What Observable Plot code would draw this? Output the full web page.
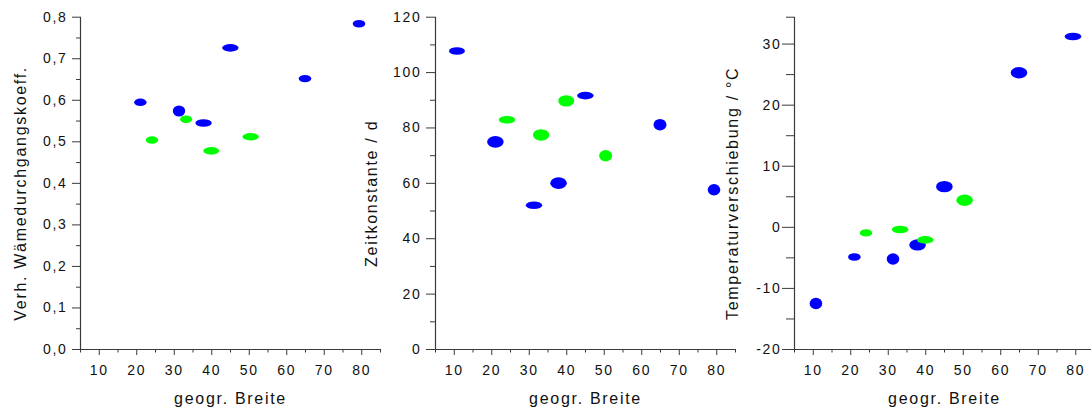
<!DOCTYPE html>
<html>
<head>
<meta charset="utf-8">
<script src="https://cdn.jsdelivr.net/npm/d3@7"></script>
<script src="https://cdn.jsdelivr.net/npm/@observablehq/plot@0.6"></script>
<style>
  html, body { margin: 0; padding: 0; background: #fff; }
  #chart { position: relative; width: 1091px; height: 409px; overflow: hidden; background: #fff; }
  #chart svg { position: absolute; top: 0; }
  #chart svg text { letter-spacing: 1.7px; }
</style>
</head>
<body>
<div id="chart"></div>
<script>
// ---- data ----
const latBlue  = [10.85, 21.1, 31.4, 37.95, 45.1, 65.0, 79.4];
const latGreen = [24.2, 33.3, 40.0, 50.5];

// Panel 1: Verh. Wärmedurchgangskoeff.
const coefBlue  = [null, 0.594, 0.573, 0.544, 0.725, 0.651, 0.783];
const coefGreen = [0.503, 0.553, 0.477, 0.511];

// Panel 2: Zeitkonstante / d
const tauBlue  = [107.6, 74.8, 51.9, 59.9, 91.5, 81.0, 57.5];
const tauGreen = [82.8, 77.3, 89.6, 69.8];

// Panel 3: Temperaturverschiebung / °C
const shiftBlue  = [-12.55, -4.93, -5.26, -2.96, 6.58, 25.23, 31.15];
const shiftGreen = [-0.99, -0.43, -2.14, 4.34];

// tick values
const xMajor = [10, 20, 30, 40, 50, 60, 70, 80];
const xMinor = [5, 15, 25, 35, 45, 55, 65, 75, 85];
const coefMajor = [0, 0.1, 0.2, 0.3, 0.4, 0.5, 0.6, 0.7, 0.8];
const coefMinor = [0.05, 0.15, 0.25, 0.35, 0.45, 0.55, 0.65, 0.75];
const tauMajor = [0, 20, 40, 60, 80, 100, 120];
const tauMinor = [10, 30, 50, 70, 90, 110];
const shiftMajor = [-20, -10, 0, 10, 20, 30];
const shiftMinor = [-15, -5, 5, 15, 25, 34.4];

// marker shapes (half-width / half-height of each ellipse, px)
const shape1Blue  = {rx: [0, 6.2, 6.2, 8.2, 8.2, 6.3, 6.3], ry: [0, 3.7, 5.5, 3.8, 3.8, 3.7, 3.8]};
const shape1Green = {rx: [6.2, 6.0, 8.0, 8.2], ry: [3.7, 3.8, 3.8, 3.7]};
const shape2Blue  = {rx: [8.0, 8.3, 8.2, 8.3, 8.3, 6.5, 6.3], ry: [3.8, 5.8, 3.8, 5.8, 3.8, 5.8, 5.8]};
const shape2Green = {rx: [8.2, 8.2, 8.0, 6.5], ry: [3.8, 5.8, 5.7, 5.7]};
const shape3Blue  = {rx: [6.3, 6.3, 6.3, 8.3, 8.3, 8.3, 8.3], ry: [5.7, 3.8, 5.7, 5.7, 5.7, 5.7, 3.8]};
const shape3Green = {rx: [6.2, 8.3, 8.3, 8.3], ry: [3.7, 3.8, 3.8, 5.7]};

const BLUE = "#0000ff", GREEN = "#00ff00", INK = "#111111", AXIS = "#3a3a3a";
const FONT = "'Liberation Sans', Arial, sans-serif";

function ellipses(lat, val, shape, color) {
  const idx = d3.range(lat.length).filter(i => val[i] != null);
  return Plot.dot(idx, {
    x: i => lat[i], y: i => val[i], fill: color, stroke: null, r: 5,
    render(index, scales, values) {
      const g = d3.create("svg:g");
      g.selectAll("ellipse").data(index).join("ellipse")
        .attr("cx", i => values.x[i])
        .attr("cy", i => values.y[i])
        .attr("rx", i => shape.rx[idx[i]])
        .attr("ry", i => shape.ry[idx[i]])
        .attr("fill", color);
      return g.node();
    }
  });
}

function panel(o) {
  return Plot.plot({
    width: 380, height: 409,
    marginLeft: 80, marginRight: 0, marginTop: 16.7, marginBottom: 60,
    style: {background: "transparent", overflow: "visible", fontFamily: FONT, color: INK},
    x: {domain: [5, 85]},
    y: {domain: o.yDomain},
    marks: [
      Plot.ruleX([5], {stroke: AXIS, strokeWidth: 1.2}),
      Plot.ruleY([o.yDomain[0]], {stroke: AXIS, strokeWidth: 1.2}),
      Plot.axisX(xMajor, {tickSize: 6, tickPadding: 10, fontSize: 14, label: null, stroke: AXIS}),
      Plot.axisX(xMinor, {tickSize: 3.5, tickFormat: () => "", label: null, stroke: AXIS}),
      Plot.axisY(o.yMajor, {tickSize: o.tick, tickPadding: o.pad, fontSize: 14, label: null,
        tickFormat: o.fmt, stroke: AXIS}),
      Plot.axisY(o.yMinor, {tickSize: o.minor, tickFormat: () => "", label: null, stroke: AXIS}),
      ellipses(latBlue, o.blue, o.shapeBlue, BLUE),
      ellipses(latGreen, o.green, o.shapeGreen, GREEN),
      Plot.text(["geogr. Breite"], {text: d => d, frameAnchor: "bottom", dy: 54,
        textAnchor: "middle", fontSize: 16, fill: INK}),
      Plot.text([o.yLabel], {text: d => d, frameAnchor: "left", rotate: -90, dx: o.ldx, dy: 10,
        textAnchor: "middle", fontSize: 16, fill: INK})
    ]
  });
}

const chart = document.getElementById("chart");
const panels = [
  {left: 0, yDomain: [0, 0.8], yMajor: coefMajor, yMinor: coefMinor, tick: 8, minor: 4, pad: 5,
   fmt: d => d.toFixed(1).replace(".", ","), yLabel: "Verh. Wämedurchgangskoeff.", ldx: -60,
   blue: coefBlue, green: coefGreen, shapeBlue: shape1Blue, shapeGreen: shape1Green},
  {left: 355, yDomain: [0, 120], yMajor: tauMajor, yMinor: tauMinor, tick: 9, minor: 5, pad: 5,
   fmt: d => String(d), yLabel: "Zeitkonstante / d", ldx: -64,
   blue: tauBlue, green: tauGreen, shapeBlue: shape2Blue, shapeGreen: shape2Green},
  {left: 713.5, yDomain: [-20, 34.4], yMajor: shiftMajor, yMinor: shiftMinor, tick: 12, minor: 8, pad: 1,
   fmt: d => String(d), yLabel: "Temperaturverschiebung / °C", ldx: -62,
   blue: shiftBlue, green: shiftGreen, shapeBlue: shape3Blue, shapeGreen: shape3Green}
];
for (const p of panels) {
  const svg = panel(p);
  svg.style.left = p.left + "px";
  chart.appendChild(svg);
}
</script>
</body>
</html>
